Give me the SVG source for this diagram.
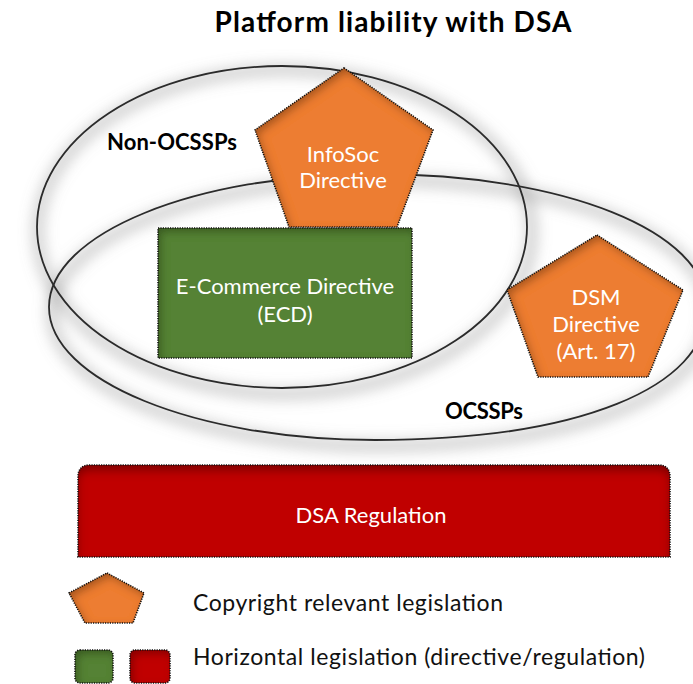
<svg xmlns="http://www.w3.org/2000/svg" width="693" height="684" viewBox="0 0 693 684">
  <style>
    .title { font-family: Lato, "Liberation Sans", sans-serif; font-weight: bold; font-size: 28px; fill: #000; }
    .grp { font-family: Lato, "Liberation Sans", sans-serif; font-weight: bold; font-size: 22px; fill: #000; }
    .in { font-family: Lato, "Liberation Sans", sans-serif; font-size: 22px; fill: #fff; text-anchor: middle; }
    .leg { font-family: Lato, "Liberation Sans", sans-serif; font-size: 23px; fill: #111; }
    .ell { fill: none; stroke: #2b2b2b; stroke-width: 1.8; }
    .halo { fill: none; stroke: #8a8a8a; stroke-width: 12; opacity: 0.4; }
    .dot { fill: none; stroke: #111; stroke-width: 1.6; stroke-dasharray: 1.2 1.2; }
    .orange { fill: #ED7D31; }
    .green { fill: #548235; }
    .red { fill: #C00000; }
  </style>
  <defs>
    <filter id="blur" x="-20%" y="-20%" width="140%" height="140%">
      <feGaussianBlur stdDeviation="7"/>
    </filter>
    <filter id="inset" x="-10%" y="-10%" width="120%" height="120%">
      <feGaussianBlur in="SourceAlpha" stdDeviation="4" result="b"/>
      <feOffset in="b" dx="3" dy="4" result="o"/>
      <feComposite in="SourceAlpha" in2="o" operator="out" result="edge"/>
      <feFlood flood-color="#000" flood-opacity="0.55"/>
      <feComposite in2="edge" operator="in" result="shadow"/>
      <feMerge><feMergeNode in="SourceGraphic"/><feMergeNode in="shadow"/></feMerge>
    </filter>
    <filter id="insetTop" x="-5%" y="-10%" width="110%" height="120%">
      <feGaussianBlur in="SourceAlpha" stdDeviation="5" result="b"/>
      <feOffset in="b" dx="0" dy="6" result="o"/>
      <feComposite in="SourceAlpha" in2="o" operator="out" result="edge"/>
      <feFlood flood-color="#000" flood-opacity="0.6"/>
      <feComposite in2="edge" operator="in" result="shadow"/>
      <feMerge><feMergeNode in="SourceGraphic"/><feMergeNode in="shadow"/></feMerge>
    </filter>
  </defs>

  <rect width="693" height="684" fill="#fff"/>

  <g id="title">
    <text class="title" x="393" y="32" text-anchor="middle" textLength="357">Platform liability with DSA</text>
  </g>

  <g id="halos" filter="url(#blur)">
    <ellipse class="halo" cx="285" cy="232" rx="247" ry="162"/>
    <path class="halo" transform="translate(3,6)" d="M49,307 C49,233.6 195,174 375,174 C564.2,174 707,231.2 707,307 C707,388.1 577.5,440 375,440 C195,440 49,380.4 49,307 Z"/>
  </g>

  <g id="group-non-ocssps">
    <ellipse class="ell" cx="282" cy="227" rx="245" ry="161"/>
    <text class="grp" x="107" y="150" textLength="130">Non-OCSSPs</text>
  </g>

  <g id="group-ocssps">
    <path class="ell" d="M49,307 C49,233.6 195,174 375,174 C564.2,174 707,231.2 707,307 C707,388.1 577.5,440 375,440 C195,440 49,380.4 49,307 Z"/>
    <text class="grp" x="445" y="419" textLength="78">OCSSPs</text>
  </g>

  <g id="connectors"/>

  <g id="infosoc">
    <polygon class="orange" filter="url(#inset)" points="344,68 433,130 397,227 289,227 255,130"/>
    <polygon class="dot" points="344,68 433,130 397,227 289,227 255,130"/>
    <text class="in" x="343" y="162">InfoSoc</text>
    <text class="in" x="343" y="188">Directive</text>
  </g>

  <g id="ecd">
    <rect class="green" filter="url(#inset)" x="158" y="228" width="254" height="130"/>
    <rect class="dot" x="158" y="228" width="254" height="130"/>
    <text class="in" x="285" y="294">E-Commerce Directive</text>
    <text class="in" x="285" y="322">(ECD)</text>
  </g>

  <g id="dsm">
    <polygon class="orange" filter="url(#inset)" points="597,235 683,290 648,377 538,377 507,290"/>
    <polygon class="dot" points="597,235 683,290 648,377 538,377 507,290"/>
    <text class="in" x="596" y="305">DSM</text>
    <text class="in" x="596" y="332">Directive</text>
    <text class="in" x="596" y="359">(Art. 17)</text>
  </g>

  <g id="dsa">
    <path class="red" filter="url(#insetTop)" d="M78,557 V477 Q78,465 90,465 H658 Q670,465 670,477 V557 Z"/>
    <path class="dot" d="M78,557 V477 Q78,465 90,465 H658 Q670,465 670,477 V557 Z"/>
    <text class="in" x="371" y="523">DSA Regulation</text>
  </g>

  <g id="legend-copyright">
    <polygon class="orange" filter="url(#inset)" points="107,573 144,593 133,623 85,623 69,593"/>
    <polygon class="dot" points="107,573 144,593 133,623 85,623 69,593"/>
    <text class="leg" x="193" y="611" textLength="310">Copyright relevant legislation</text>
  </g>

  <g id="legend-horizontal">
    <rect class="green" filter="url(#inset)" x="75" y="650" width="38" height="33" rx="5"/>
    <rect class="dot" x="75" y="650" width="38" height="33" rx="5"/>
    <rect class="red" filter="url(#inset)" x="130" y="650" width="40" height="33" rx="5"/>
    <rect class="dot" x="130" y="650" width="40" height="33" rx="5"/>
    <text class="leg" x="193" y="665" textLength="452">Horizontal legislation (directive/regulation)</text>
  </g>
</svg>
